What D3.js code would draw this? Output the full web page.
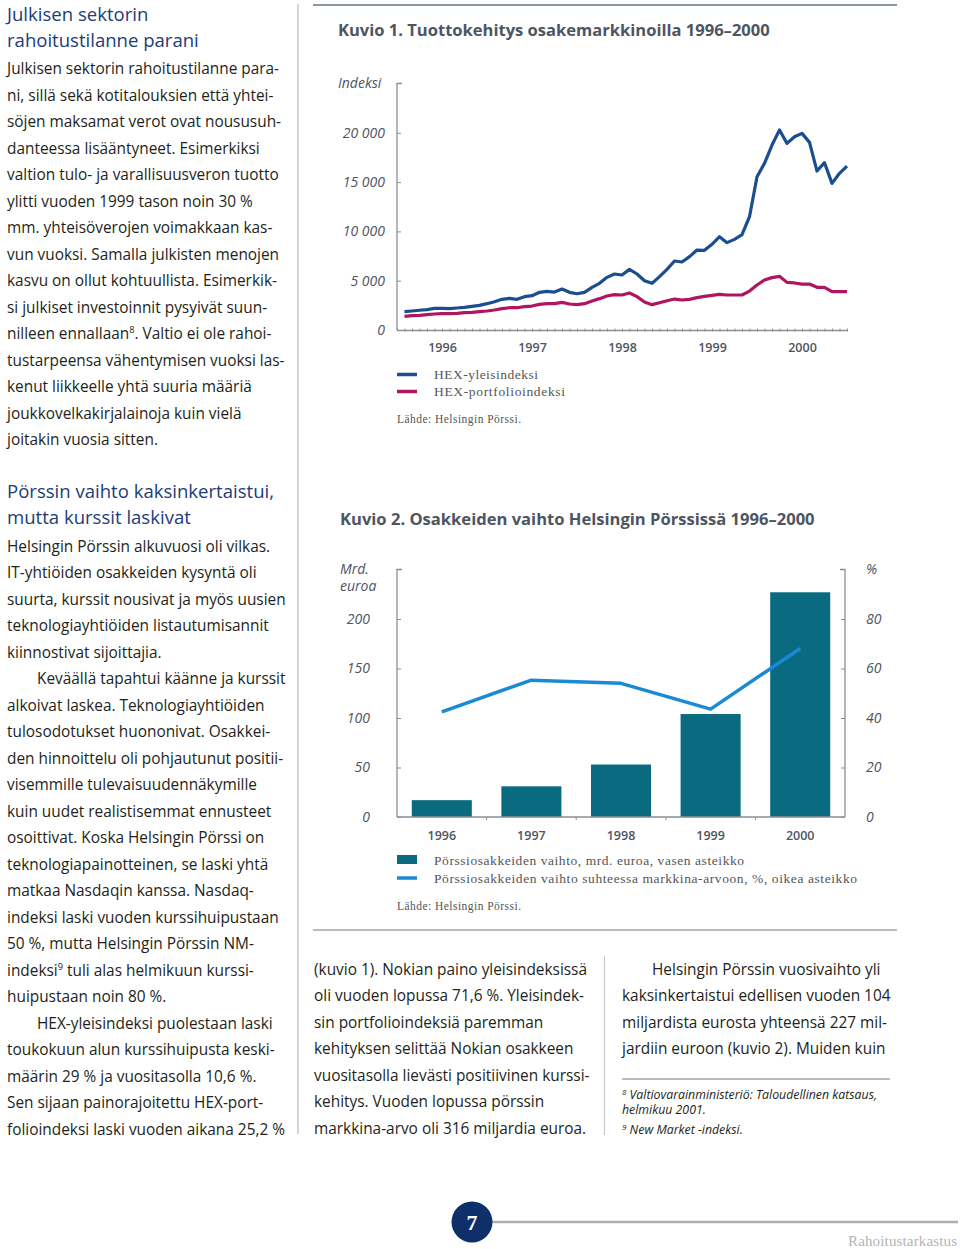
<!DOCTYPE html>
<html><head><meta charset="utf-8">
<script src="https://cdn.jsdelivr.net/npm/d3@7"></script>
<style>body{margin:0;background:#fff}svg{display:block}</style>
</head><body>
<svg id="page" width="960" height="1249"></svg>
<script>
// ---------- DATA ----------
// Kuvio 1: monthly (end of month) index values, Jan 1996 .. Dec 2000
const monthIdx = d3.range(1, 61);
const hexGeneral = [1860,1930,2000,2060,2200,2200,2160,2230,2300,2400,2500,2670,
  2870,3110,3210,3110,3380,3480,3820,3920,3850,4160,3820,3680,
  3820,4330,4730,5340,5680,5580,6150,5680,5000,4730,5410,6150,
  7000,6900,7440,8110,8080,8690,9460,8860,9190,9670,11490,15550,
  16900,18760,20280,18930,19600,19940,19030,16120,16970,14870,15890,16630];
const hexPortfolio = [1390,1450,1490,1550,1620,1660,1660,1690,1760,1790,1860,1930,
  2030,2160,2260,2260,2370,2430,2600,2670,2670,2800,2640,2570,
  2670,2940,3180,3450,3580,3550,3750,3380,2840,2570,2770,2970,
  3140,3040,3110,3280,3410,3520,3620,3550,3550,3550,3950,4560,
  5070,5310,5440,4830,4770,4660,4660,4330,4330,3890,3890,3890];
const years = ["1996","1997","1998","1999","2000"];
const yearMid = [6, 18, 30, 42, 54];
const indexTicks = [0, 5000, 10000, 15000, 20000];
const legend1 = ["HEX-yleisindeksi", "HEX-portfolioindeksi"];

// Kuvio 2
const turnover = [17, 31, 53, 104, 227];          // mrd. euroa
const turnoverPct = [42.5, 55.3, 54, 43.6, 68.1];  // % markkina-arvosta
const leftTicks = [0, 50, 100, 150, 200];
const rightTicks = [0, 20, 40, 60, 80];
const legend2 = ["Pörssiosakkeiden vaihto, mrd. euroa, vasen asteikko",
  "Pörssiosakkeiden vaihto suhteessa markkina-arvoon, %, oikea asteikko"];

// Texts
const head1 = ["Julkisen sektorin", "rahoitustilanne parani"];
const body1 = ["Julkisen sektorin rahoitustilanne para-",
"ni, sillä sekä kotitalouksien että yhtei-",
"söjen maksamat verot ovat noususuh-",
"danteessa lisääntyneet. Esimerkiksi",
"valtion tulo- ja varallisuusveron tuotto",
"ylitti vuoden 1999 tason noin 30 %",
"mm. yhteisöverojen voimakkaan kas-",
"vun vuoksi. Samalla julkisten menojen",
"kasvu on ollut kohtuullista. Esimerkik-",
"si julkiset investoinnit pysyivät suun-",
"nilleen ennallaan^8. Valtio ei ole rahoi-",
"tustarpeensa vähentymisen vuoksi las-",
"kenut liikkeelle yhtä suuria määriä",
"joukkovelkakirjalainoja kuin vielä",
"joitakin vuosia sitten."];
const head2 = ["Pörssin vaihto kaksinkertaistui,", "mutta kurssit laskivat"];
const body2 = ["Helsingin Pörssin alkuvuosi oli vilkas.",
"IT-yhtiöiden osakkeiden kysyntä oli",
"suurta, kurssit nousivat ja myös uusien",
"teknologiayhtiöiden listautumisannit",
"kiinnostivat sijoittajia.",
">Keväällä tapahtui käänne ja kurssit",
"alkoivat laskea. Teknologiayhtiöiden",
"tulosodotukset huononivat. Osakkei-",
"den hinnoittelu oli pohjautunut positii-",
"visemmille tulevaisuudennäkymille",
"kuin uudet realistisemmat ennusteet",
"osoittivat. Koska Helsingin Pörssi on",
"teknologiapainotteinen, se laski yhtä",
"matkaa Nasdaqin kanssa. Nasdaq-",
"indeksi laski vuoden kurssihuipustaan",
"50 %, mutta Helsingin Pörssin NM-",
"indeksi^9 tuli alas helmikuun kurssi-",
"huipustaan noin 80 %.",
">HEX-yleisindeksi puolestaan laski",
"toukokuun alun kurssihuipusta keski-",
"määrin 29 % ja vuositasolla 10,6 %.",
"Sen sijaan painorajoitettu HEX-port-",
"folioindeksi laski vuoden aikana 25,2 %"];
const body3 = ["(kuvio 1). Nokian paino yleisindeksissä",
"oli vuoden lopussa 71,6 %. Yleisindek-",
"sin portfolioindeksiä paremman",
"kehityksen selittää Nokian osakkeen",
"vuositasolla lievästi positiivinen kurssi-",
"kehitys. Vuoden lopussa pörssin",
"markkina-arvo oli 316 miljardia euroa."];
const body4 = [">Helsingin Pörssin vuosivaihto yli",
"kaksinkertaistui edellisen vuoden 104",
"miljardista eurosta yhteensä 227 mil-",
"jardiin euroon (kuvio 2). Muiden kuin"];
const notes = [["8", "Valtiovarainministeriö: Taloudellinen katsaus,"], ["", "helmikuu 2001."], ["9", "New Market -indeksi."]];

// ---------- DRAWING ----------
const svg = d3.select("#page");
const SANS = "'Open Sans','Noto Sans',sans-serif";
const SERIF = "'Liberation Serif','DejaVu Serif',serif";
const TXT = "#231f20", NAVY = "#1d3c7a", GREY = "#4d5562", AX = "#8a8f96";

function fitSize(str, targetW, family, weight, style) {
  const t = svg.append("text").attr("font-family", family).attr("font-size", 100)
    .attr("font-weight", weight || 400).attr("font-style", style || "normal").text(str);
  const w = t.node().getComputedTextLength(); t.remove();
  return 100 * targetW / w;
}
const bodySize = fitSize("valtion tulo- ja varallisuusveron tuotto", 272, SANS);
const headSize = fitSize("rahoitustilanne parani", 192, SANS);

function block(lines, x, y0, lh, size, color, family, indent, maxW) {
  lines.forEach((ln, i) => {
    let s = ln, ind = 0;
    if (s.startsWith(">")) { ind = indent; s = s.slice(1); }
    const t = svg.append("text").attr("x", x + ind).attr("y", y0 + i * lh)
      .attr("font-family", family).attr("font-size", size).attr("fill", color);
    const parts = s.split(/\^(\d)/);
    parts.forEach((p, j) => {
      if (j % 2 === 0) { if (p) t.append("tspan").attr("dy", j > 0 ? size * 0.38 : 0).text(p); }
      else t.append("tspan").attr("dy", -size * 0.38).attr("font-size", size * 0.6).text(p);
    });
    if (maxW) {
      const w = t.node().getComputedTextLength();
      if (w > maxW - ind) t.attr("textLength", maxW - ind).attr("lengthAdjust", "spacingAndGlyphs");
    }
  });
}

// page rules
svg.append("line").attr("x1", 313).attr("x2", 897).attr("y1", 5).attr("y2", 5).attr("stroke", "#8a95a5").attr("stroke-width", 2);
svg.append("line").attr("x1", 298).attr("x2", 298).attr("y1", 4).attr("y2", 1134).attr("stroke", "#c9c9c9").attr("stroke-width", 1.5);
svg.append("line").attr("x1", 313).attr("x2", 897).attr("y1", 930).attr("y2", 930).attr("stroke", "#9ea7b2").attr("stroke-width", 1.5);
svg.append("line").attr("x1", 604.5).attr("x2", 604.5).attr("y1", 956).attr("y2", 1135).attr("stroke", "#c9c9c9").attr("stroke-width", 1.2);
svg.append("line").attr("x1", 622).attr("x2", 890).attr("y1", 1079).attr("y2", 1079).attr("stroke", "#777").attr("stroke-width", 1);

// left column texts
block(head1, 7, 21, 26.3, headSize, NAVY, SANS);
block(body1, 7, 74, 26.5, bodySize, TXT, SANS, 0, 286);
block(head2, 7, 498, 26.3, headSize, NAVY, SANS);
block(body2, 7, 551.5, 26.5, bodySize, TXT, SANS, 30, 286);
block(body3, 314, 974.5, 26.5, bodySize, TXT, SANS, 0, 290);
block(body4, 622, 974.5, 26.5, bodySize, TXT, SANS, 30, 290);

// footnotes
const fnSize = bodySize * 0.8;
notes.forEach((n, i) => {
  const y = [1099, 1114, 1134][i];
  const t = svg.append("text").attr("x", 622).attr("y", y).attr("font-family", SANS)
    .attr("font-style", "italic").attr("font-size", fnSize).attr("fill", TXT);
  if (n[0]) {
    t.append("tspan").attr("dy", -4).attr("font-size", fnSize * 0.65).text(n[0]);
    t.append("tspan").attr("dy", 4).text(" " + n[1]);
  } else t.append("tspan").text(n[1]);
});

// page number & footer
svg.append("line").attr("x1", 480).attr("x2", 958).attr("y1", 1222).attr("y2", 1222).attr("stroke", "#a9b1b5").attr("stroke-width", 2.5);
svg.append("circle").attr("cx", 472).attr("cy", 1222).attr("r", 20.5).attr("fill", "#0e2f6a");
svg.append("text").attr("x", 472).attr("y", 1230).attr("text-anchor", "middle").attr("font-family", SERIF)
  .attr("font-weight", 700).attr("font-size", 22).attr("fill", "#fff").text("7");
svg.append("text").attr("x", 957).attr("y", 1246).attr("text-anchor", "end").attr("font-family", SERIF)
  .attr("font-size", 15).attr("fill", "#b3b3b3").attr("textLength", 109).attr("lengthAdjust", "spacing").text("Rahoitustarkastus");

// ---------- KUVIO 1 ----------
const t1Size = fitSize("Kuvio 1. Tuottokehitys osakemarkkinoilla 1996–2000", 432, SANS, 700);
svg.append("text").attr("x", 338).attr("y", 36).attr("font-family", SANS).attr("font-weight", 700)
  .attr("font-size", t1Size).attr("fill", GREY).text("Kuvio 1. Tuottokehitys osakemarkkinoilla 1996–2000");
svg.append("text").attr("x", 338).attr("y", 88).attr("font-family", SANS).attr("font-style", "italic")
  .attr("font-size", 14).attr("fill", GREY).text("Indeksi");

const x1 = d3.scaleLinear().domain([0, 60]).range([397, 847]);
const y1 = d3.scaleLinear().domain([0, 25000]).range([330, 83.5]);
const g1 = svg.append("g");

const ay1 = g1.append("g").attr("transform", "translate(397,0)")
  .call(d3.axisLeft(y1).tickValues(indexTicks).tickSize(-4).tickPadding(12)
    .tickFormat(d => d === 0 ? "0" : d3.format(",")(d).replace(",", " ")));
ay1.select(".domain").remove();
ay1.selectAll("line").attr("stroke", AX);
ay1.selectAll("text").attr("font-family", SANS).attr("font-style", "italic").attr("font-size", 14).attr("fill", GREY);
g1.append("path").attr("d", `M402,${y1(25000)}H397V${y1(0)}`).attr("fill", "none").attr("stroke", AX).attr("stroke-width", 1.3);

const ax1 = g1.append("g").attr("transform", `translate(0,${y1(0)})`)
  .call(d3.axisBottom(x1).tickValues(d3.range(0, 61)).tickSize(3).tickSizeOuter(0).tickFormat(""));
ax1.select(".domain").attr("stroke", AX).attr("stroke-width", 1.3);
ax1.selectAll("line").attr("stroke", AX).attr("transform", "translate(0,-1.5)");
const ax1b = g1.append("g").attr("transform", `translate(0,${y1(0)})`)
  .call(d3.axisBottom(x1).tickValues(yearMid).tickSize(0).tickPadding(13).tickFormat((d, i) => years[i]));
ax1b.select(".domain").remove();
ax1b.selectAll("text").attr("font-family", SANS).attr("font-weight", 600).attr("font-size", 12.5).attr("fill", GREY);

const line1 = d3.line().x((d, i) => x1(monthIdx[i])).y(d => y1(d));
const c1 = ["#1b4e90", "#b01560"];
[hexGeneral, hexPortfolio].forEach((s, k) => {
  g1.append("path").datum(s).attr("d", line1).attr("fill", "none").attr("stroke", c1[k])
    .attr("stroke-width", 3.2).attr("stroke-linejoin", "round");
});
legend1.forEach((l, k) => {
  const y = [374.5, 391.5][k];
  g1.append("line").attr("x1", 397).attr("x2", 417).attr("y1", y).attr("y2", y).attr("stroke", c1[k]).attr("stroke-width", 3.5);
  g1.append("text").attr("x", 434).attr("y", y + 4.5).attr("font-family", SERIF).attr("font-size", 13.5)
    .attr("fill", "#555").attr("textLength", [104, 131][k]).attr("lengthAdjust", "spacing").text(l);
});
g1.append("text").attr("x", 397).attr("y", 423).attr("font-family", SERIF).attr("font-size", 11.5)
  .attr("fill", "#555").attr("textLength", 124).attr("lengthAdjust", "spacing").text("Lähde: Helsingin Pörssi.");

// ---------- KUVIO 2 ----------
const t2Size = fitSize("Kuvio 2. Osakkeiden vaihto Helsingin Pörssissä 1996–2000", 475, SANS, 700);
svg.append("text").attr("x", 340).attr("y", 525).attr("font-family", SANS).attr("font-weight", 700)
  .attr("font-size", t2Size).attr("fill", GREY).text("Kuvio 2. Osakkeiden vaihto Helsingin Pörssissä 1996–2000");
svg.append("text").attr("x", 340).attr("y", 574).attr("font-family", SANS).attr("font-style", "italic")
  .attr("font-size", 14).attr("fill", GREY).text("Mrd.");
svg.append("text").attr("x", 340).attr("y", 591).attr("font-family", SANS).attr("font-style", "italic")
  .attr("font-size", 14).attr("fill", GREY).text("euroa");
svg.append("text").attr("x", 866).attr("y", 574).attr("font-family", SANS).attr("font-style", "italic")
  .attr("font-size", 14).attr("fill", GREY).text("%");

const x2 = d3.scaleBand().domain(years).range([397, 845]).paddingInner(0.33).paddingOuter(0.165);
const yL = d3.scaleLinear().domain([0, 250]).range([817, 569.5]);
const yR = d3.scaleLinear().domain([0, 100]).range([817, 569.5]);
const g2 = svg.append("g");

g2.selectAll("rect.bar").data(turnover).join("rect").attr("class", "bar")
  .attr("x", (d, i) => x2(years[i])).attr("width", x2.bandwidth())
  .attr("y", d => yL(d)).attr("height", d => yL(0) - yL(d)).attr("fill", "#0a6a80");

const aL = g2.append("g").attr("transform", "translate(397,0)")
  .call(d3.axisLeft(yL).tickValues(leftTicks).tickSize(-4).tickPadding(27));
aL.select(".domain").remove();
aL.selectAll("line").attr("stroke", AX);
aL.selectAll("text").attr("font-family", SANS).attr("font-style", "italic").attr("font-size", 14).attr("fill", GREY);
g2.append("path").attr("d", `M402,${yL(250)}H397V${yL(0)}`).attr("fill", "none").attr("stroke", AX).attr("stroke-width", 1.3);

const aR = g2.append("g").attr("transform", "translate(845,0)")
  .call(d3.axisRight(yR).tickValues(rightTicks).tickSize(-4).tickPadding(21));
aR.select(".domain").remove();
aR.selectAll("line").attr("stroke", AX);
aR.selectAll("text").attr("font-family", SANS).attr("font-style", "italic").attr("font-size", 14).attr("fill", GREY);
g2.append("path").attr("d", `M840,${yR(100)}H845V${yR(0)}`).attr("fill", "none").attr("stroke", AX).attr("stroke-width", 1.3);

const step = x2.step();
const bounds = years.slice(1).map(y => x2(y) - step * 0.33 / 2);
g2.append("line").attr("x1", 397).attr("x2", 845).attr("y1", yL(0)).attr("y2", yL(0)).attr("stroke", AX).attr("stroke-width", 1.3);
g2.selectAll("line.bt").data(bounds).join("line").attr("class", "bt")
  .attr("x1", d => d).attr("x2", d => d).attr("y1", yL(0)).attr("y2", yL(0) + 3).attr("stroke", AX);
g2.selectAll("text.yr").data(years).join("text").attr("class", "yr")
  .attr("x", d => x2(d) + x2.bandwidth() / 2).attr("y", 840).attr("text-anchor", "middle")
  .attr("font-family", SANS).attr("font-weight", 600).attr("font-size", 12.5).attr("fill", GREY).text(d => d);

const line2 = d3.line().x((d, i) => x2(years[i]) + x2.bandwidth() / 2).y(d => yR(d));
g2.append("path").datum(turnoverPct).attr("d", line2).attr("fill", "none").attr("stroke", "#1b8ad4")
  .attr("stroke-width", 3.5).attr("stroke-linejoin", "round");

g2.append("rect").attr("x", 397).attr("y", 855).attr("width", 20).attr("height", 9).attr("fill", "#0a6a80");
g2.append("line").attr("x1", 397).attr("x2", 417).attr("y1", 878).attr("y2", 878).attr("stroke", "#1b8ad4").attr("stroke-width", 3.5);
legend2.forEach((l, k) => {
  g2.append("text").attr("x", 434).attr("y", [865, 883][k]).attr("font-family", SERIF).attr("font-size", 13.5)
    .attr("fill", "#555").attr("textLength", [310, 423][k]).attr("lengthAdjust", "spacing").text(l);
});
g2.append("text").attr("x", 397).attr("y", 910).attr("font-family", SERIF).attr("font-size", 11.5)
  .attr("fill", "#555").attr("textLength", 124).attr("lengthAdjust", "spacing").text("Lähde: Helsingin Pörssi.");
</script>
</body></html>
